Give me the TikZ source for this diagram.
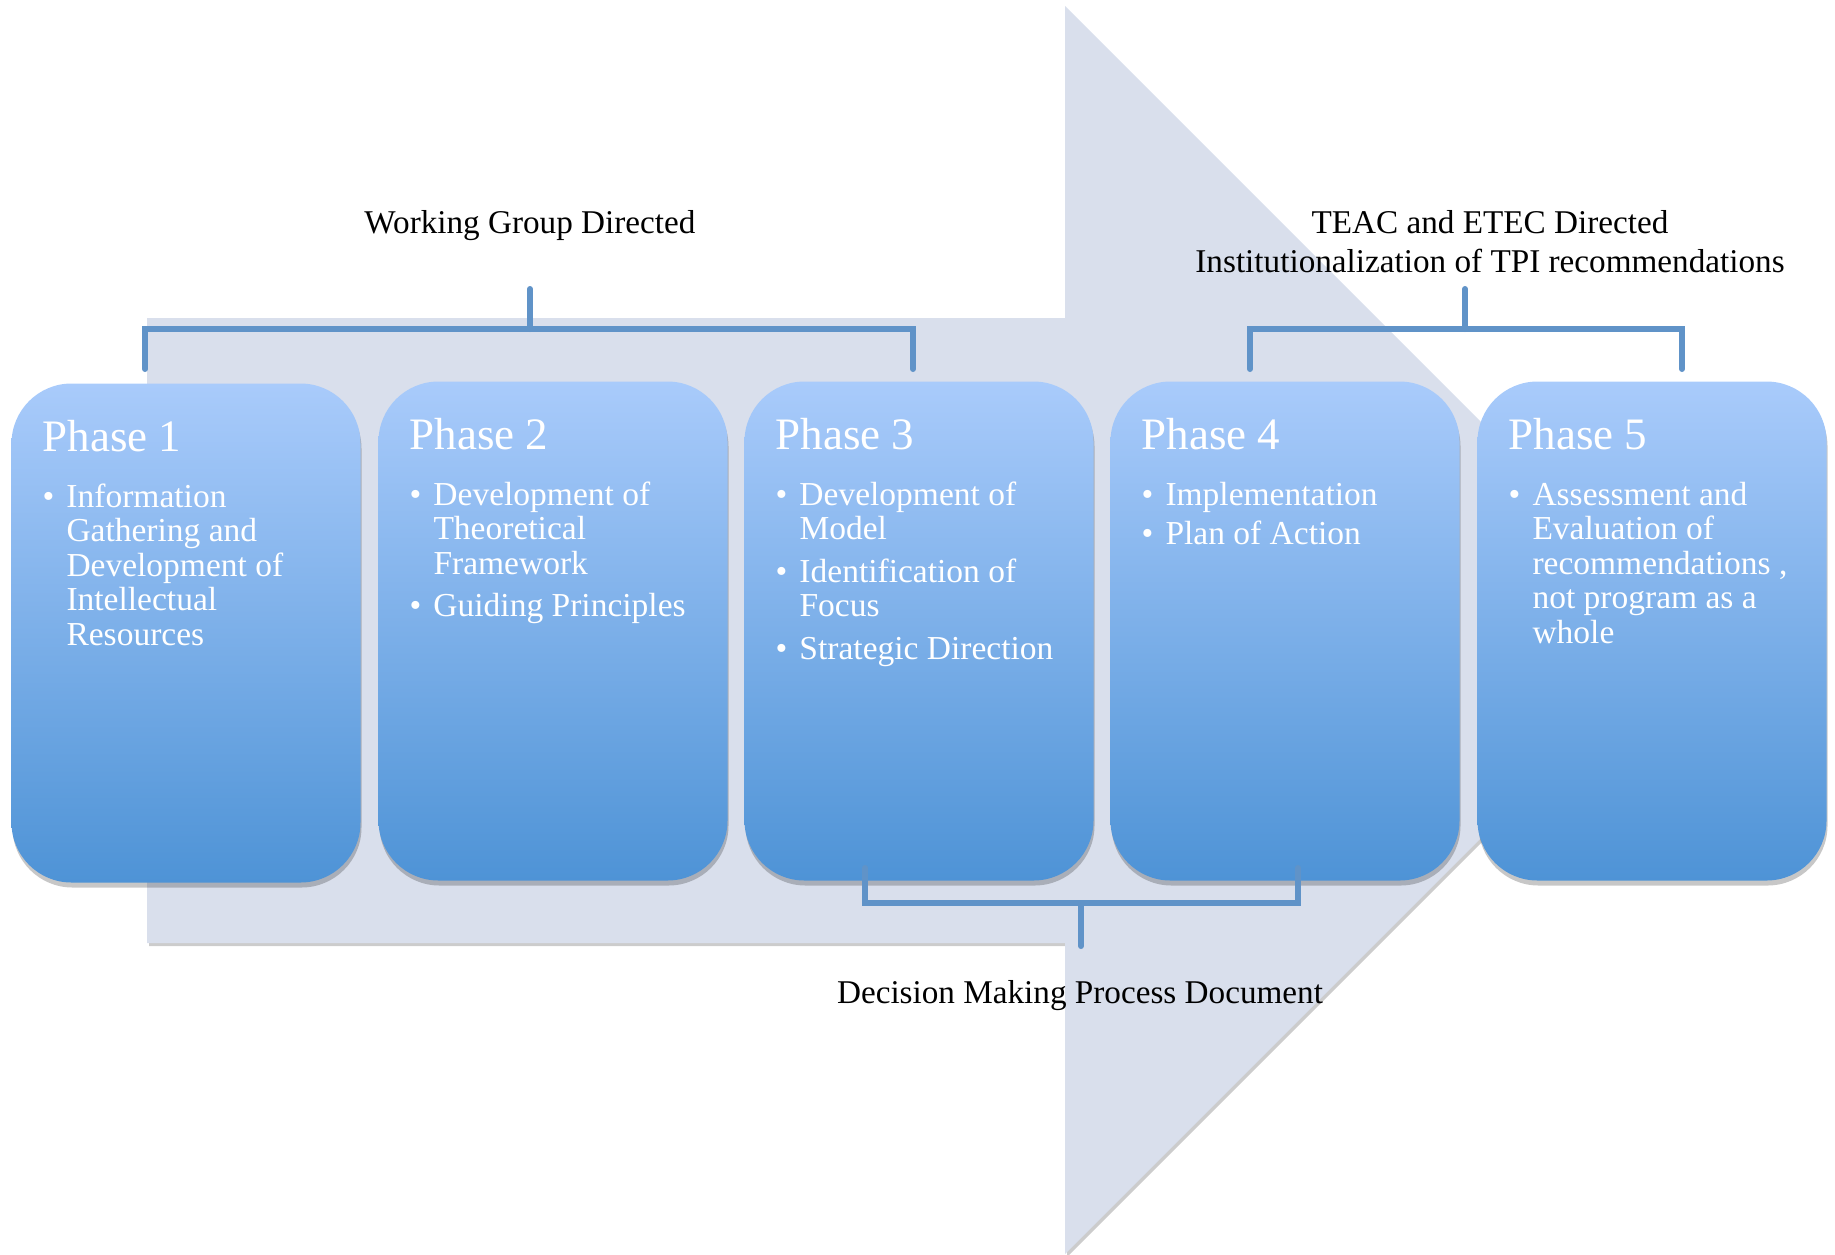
\documentclass[tikz,border=0pt]{standalone}
\usepackage{fontspec}
\setmainfont{Liberation Serif}
\usetikzlibrary{calc,shadows}

\definecolor{arrowfill}{HTML}{D9DFEC}
\definecolor{boxtop}{HTML}{A9CBFB}
\definecolor{boxbottom}{HTML}{4E93D6}
\definecolor{bracketblue}{HTML}{6093C8}

\newcommand{\bul}{\makebox[24pt][l]{\textbullet}}
\newcommand{\blist}[1]{\begin{tabular}[t]{@{}l@{}l@{}}#1\end{tabular}}

\tikzset{
  phase/.style={rounded corners=60pt, minimum width=349pt, minimum height=499pt,
    top color=boxtop, bottom color=boxbottom,
    drop shadow={shadow xshift=1pt, shadow yshift=-5pt, fill=black, opacity=.22}},
  phasetitle/.style={anchor=base west, text=white, inner sep=0pt,
    font=\fontsize{45}{50}\selectfont},
  phaselist/.style={anchor=base west, text=white, inner sep=0pt,
    font=\fontsize{33.5}{34.5}\selectfont},
  bracket/.style={draw=bracketblue, line width=6pt, line cap=round},
  grouplabel/.style={anchor=base, align=center, inner sep=0pt,
    font=\fontsize{33.2}{38.6}\selectfont}
}

\begin{document}
\begin{tikzpicture}[x=1pt, y=-1pt]
  \useasboundingbox (0,0) rectangle (1835,1254);

  %%% big arrow behind
  \path[fill=arrowfill, drop shadow={shadow xshift=2pt, shadow yshift=-3pt, fill=black, opacity=.2}]
    (147,318) -- (1065,318) -- (1065,6) -- (1689,630) -- (1065,1254)
    -- (1065,943) -- (147,943) -- cycle;

  %%% phases
  \node[phase] (p1) at (186,633) {};
  \node[phase] (p2) at (553,631) {};
  \node[phase] (p3) at (919,631) {};
  \node[phase] (p4) at (1285,631) {};
  \node[phase] (p5) at (1652,631) {};

  \node[phasetitle] (t1) at ($(p1.north west)+(31,68)$) {Phase 1};
  \node[phasetitle] (t2) at ($(p2.north west)+(31,68)$) {Phase 2};
  \node[phasetitle] (t3) at ($(p3.north west)+(31,68)$) {Phase 3};
  \node[phasetitle] (t4) at ($(p4.north west)+(31,68)$) {Phase 4};
  \node[phasetitle] (t5) at ($(p5.north west)+(31,68)$) {Phase 5};

  \node[phaselist] (l1) at ($(p1.north west)+(31,124)$) {\blist{%
    \bul & Information\\ & Gathering and\\ & Development of\\ & Intellectual\\ & Resources}};
  \node[phaselist] (l2) at ($(p2.north west)+(31,124)$) {\blist{%
    \bul & Development of\\ & Theoretical\\ & Framework\\[8pt]
    \bul & Guiding Principles}};
  \node[phaselist] (l3) at ($(p3.north west)+(31,124)$) {\blist{%
    \bul & Development of\\ & Model\\[8pt]
    \bul & Identification of\\ & Focus\\[8pt]
    \bul & Strategic Direction}};
  \node[phaselist] (l4) at ($(p4.north west)+(31,124)$) {\blist{%
    \bul & Implementation\\[5pt]
    \bul & Plan of Action}};
  \node[phaselist] (l5) at ($(p5.north west)+(31,124)$) {\blist{%
    \bul & Assessment and\\ & Evaluation of\\ & recommendations ,\\ & not program as a\\ & whole}};

  %%% labels
  \node[grouplabel] (wg) at (530,233) {Working Group Directed};
  \node[grouplabel] (teac) at (1490,272) {TEAC and ETEC Directed\\Institutionalization of TPI recommendations};
  \node[grouplabel] (dmp) at (1080,1003) {Decision Making Process Document};

  %%% brackets
  \coordinate (wgm) at (530,329);
  \coordinate (wga) at (145,369);
  \coordinate (wgb) at (913,369);
  \draw[bracket] (wga) |- (wgm) -| (wgb);
  \draw[bracket] (wgm) -- (530,289);

  \coordinate (tcm) at (1465,329);
  \coordinate (tca) at (1250,369);
  \coordinate (tcb) at (1682,369);
  \draw[bracket] (tca) |- (tcm) -| (tcb);
  \draw[bracket] (tcm) -- (1465,289);

  \coordinate (dmm) at (1081,903);
  \coordinate (dma) at (865,868);
  \coordinate (dmb) at (1298,868);
  \draw[bracket] (dma) |- (dmm) -| (dmb);
  \draw[bracket] (dmm) -- (1081,946);
\end{tikzpicture}
\end{document}
